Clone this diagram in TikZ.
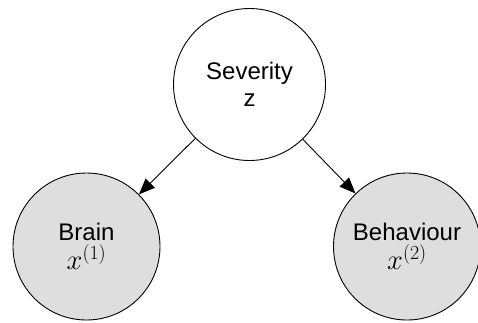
\documentclass[tikz,border=0pt]{standalone}
\usepackage{fix-cm}
\usepackage{fontspec}
\setmainfont{Liberation Sans}
\usetikzlibrary{arrows.meta}
\definecolor{obsfill}{RGB}{222,222,222}
\newcommand{\varlabel}[1]{{\fontsize{28.5}{29}\selectfont$#1$}}
\begin{document}
\begin{tikzpicture}[x=1pt,y=-1pt,
  latent/.style={circle,draw=black,line width=0.9pt,fill=white,
    minimum size=152pt,inner sep=0pt,align=center,
    font=\fontsize{24}{27}\selectfont},
  observed/.style={latent,fill=obsfill,minimum size=147pt},
  edge/.style={-{Triangle[length=16pt,width=13pt]},line width=0.9pt}]
\useasboundingbox (0,0) rectangle (478,322);
% latent cause
\node[latent] (z) at (249.5,84.5) {Severity\\z};
% observed views
\node[observed] (brain) at (86.5,246.5) {Brain\\[2pt]\varlabel{x^{(1)}}};
\node[observed] (behav) at (407,246.5) {Behaviour\\[2pt]\varlabel{x^{(2)}}};
% generative edges
\draw[edge] (z) -- (brain);
\draw[edge] (z) -- (behav);
\end{tikzpicture}
\end{document}
